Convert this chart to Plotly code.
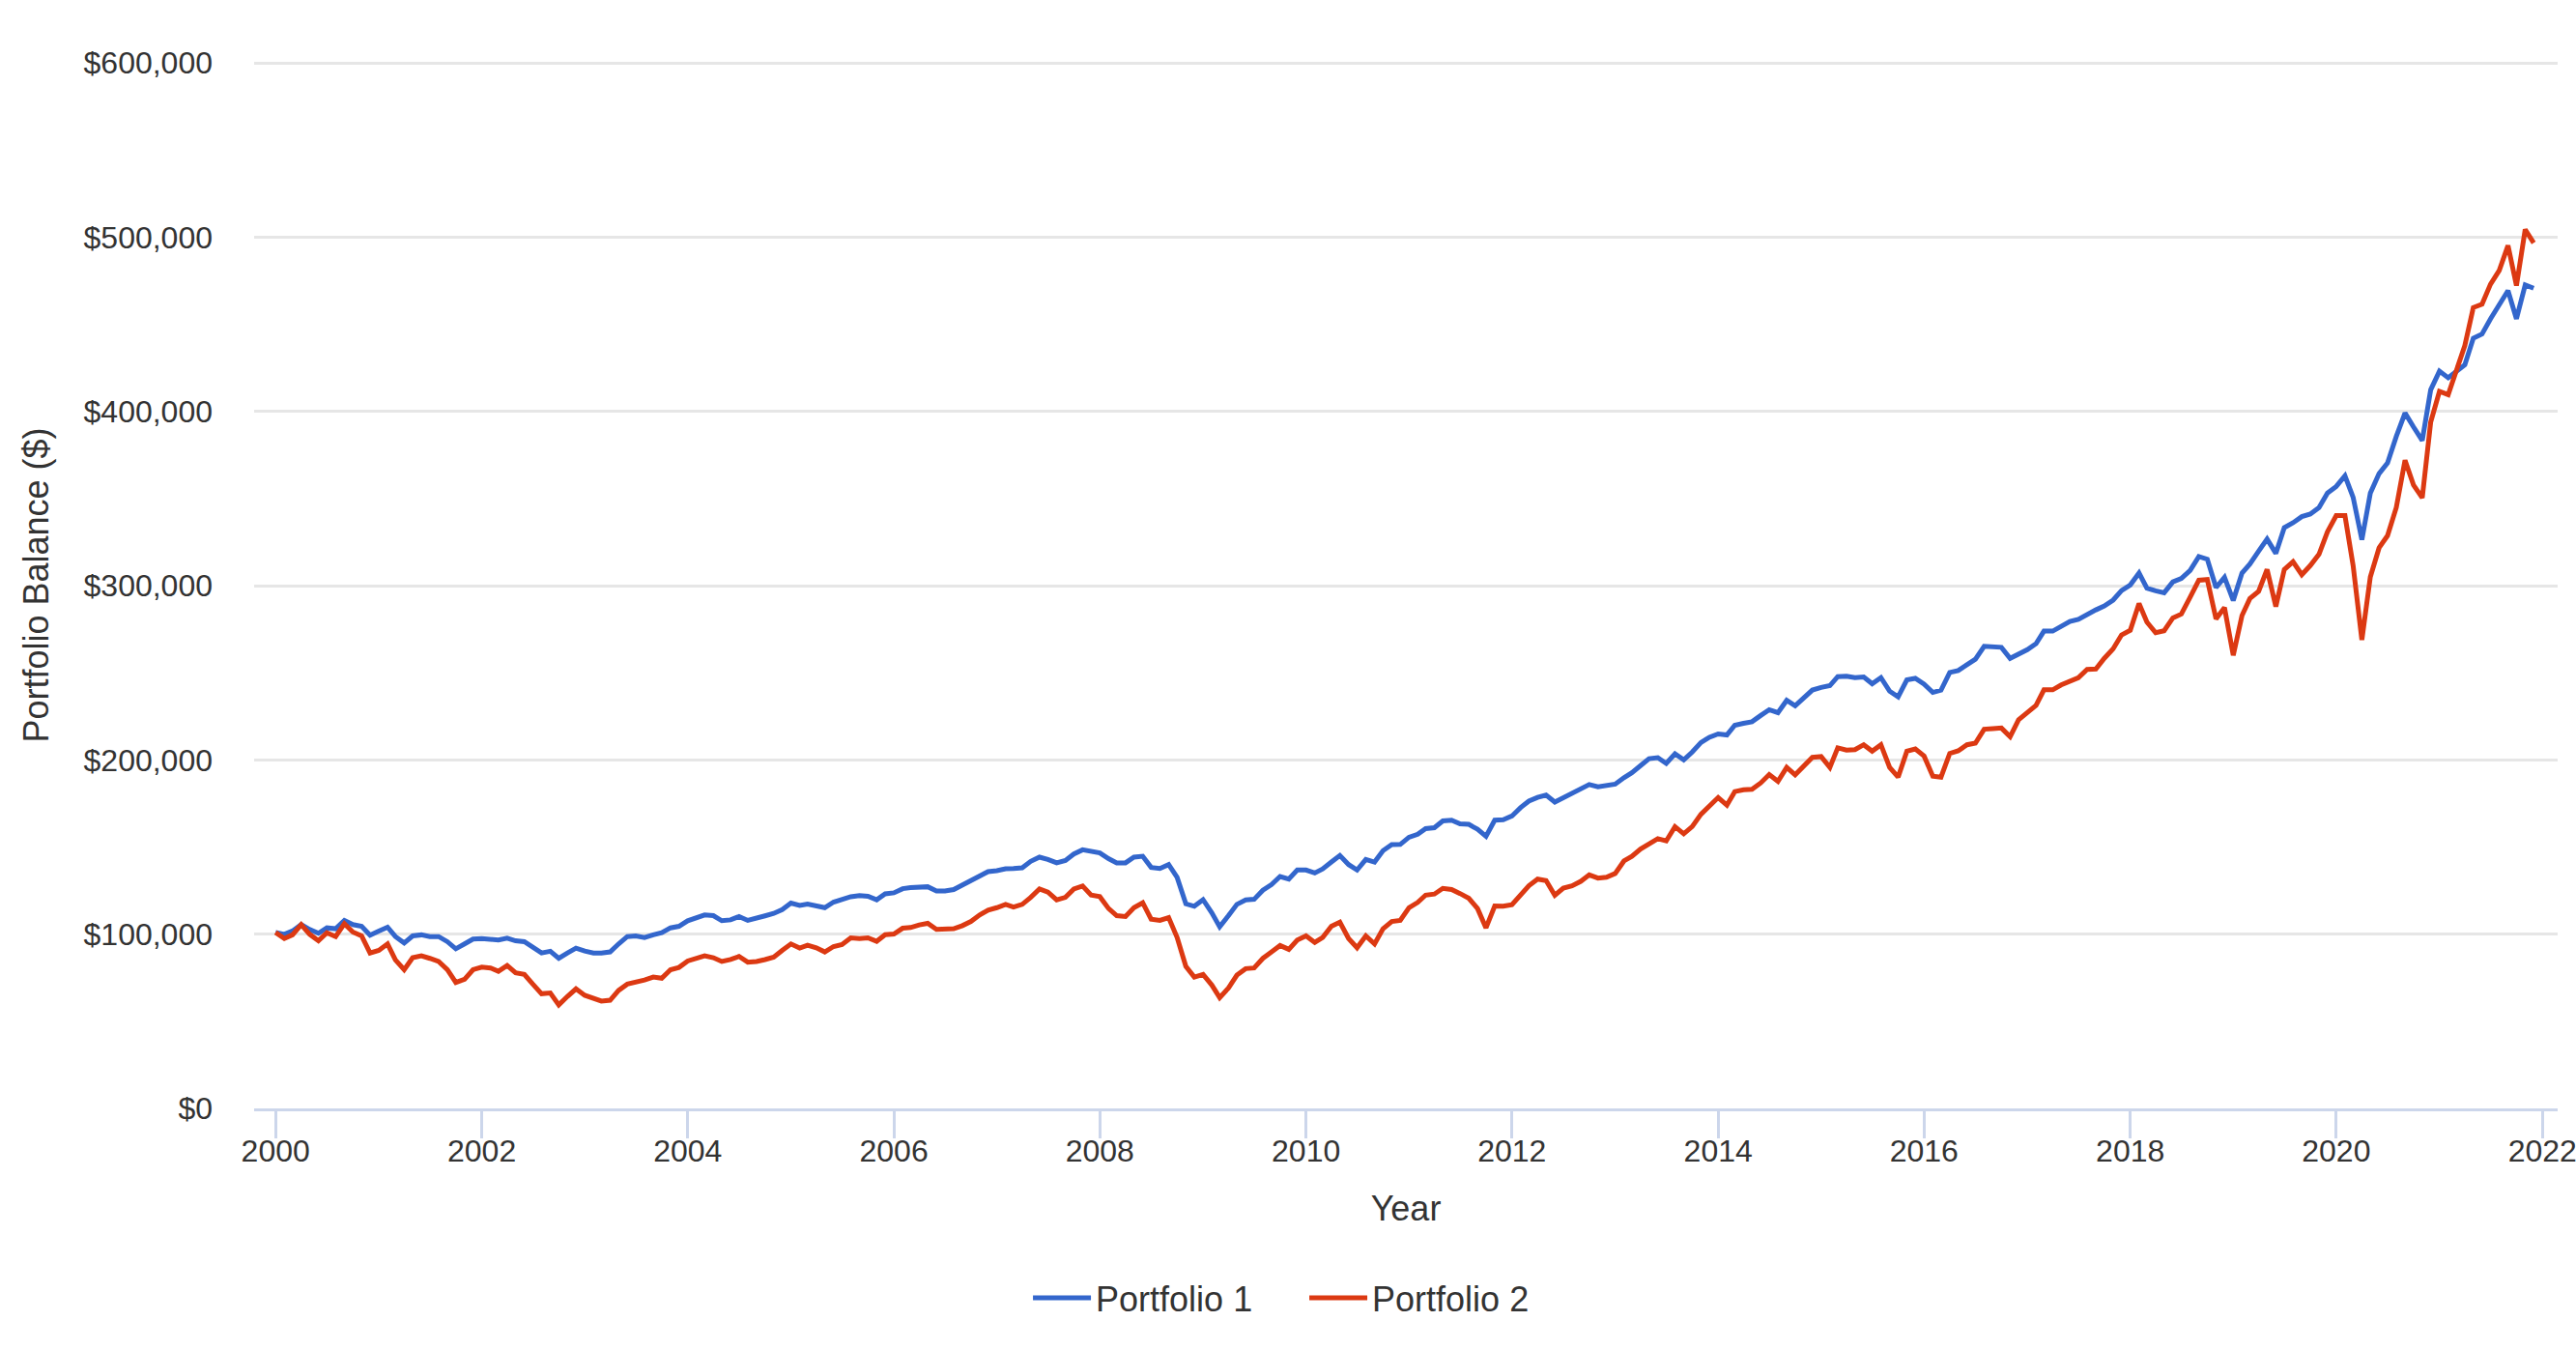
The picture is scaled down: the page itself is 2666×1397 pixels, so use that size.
import pandas as pd
import plotly.graph_objects as go

# Monthly dates, Jan 2000 .. Dec 2021
dates = pd.date_range("2000-01-01", periods=264, freq="MS")

# Portfolio balances in thousands of dollars
p1_k = [
    101.0, 99.9, 101.8, 105.5, 102.7, 100.5, 103.6, 103.1, 107.9, 105.5, 104.5, 99.4,
    101.8, 104.0, 98.6, 94.9, 99.0, 99.6, 98.6, 98.6, 95.7, 91.6, 94.4, 97.2,
    97.5, 97.2, 96.6, 97.7, 96.2, 95.7, 92.6, 89.2, 90.2, 86.1, 89.2, 92.0,
    90.3, 89.2, 89.2, 89.8, 94.4, 98.6, 99.0, 98.1, 99.6, 100.8, 103.6, 104.5,
    107.7, 109.7, 111.0, 110.6,
    107.7, 108.2, 110.1, 107.9, 109.0, 110.5, 111.9, 114.1, 117.8, 116.5, 117.3, 116.0,
    115.2, 118.4, 119.7, 121.5, 122.1, 121.7, 119.7, 123.1, 123.7, 126.1, 126.7, 126.8,
    127.2, 124.8, 124.8, 125.6, 128.1, 130.7, 133.5, 135.9, 136.4, 137.5, 137.7, 138.1,
    141.8, 144.2, 142.9, 140.9, 142.3, 146.0, 148.4, 147.3, 146.6, 143.3, 140.9, 140.9,
    144.2, 144.7, 138.3, 137.7, 139.9, 132.6, 117.4, 116.0, 119.8, 112.3, 104.2, 110.6,
    117.1, 119.7, 120.0, 125.2, 128.5, 133.1, 131.6, 136.8, 136.8, 135.1, 137.4, 141.4,
    145.1, 139.9, 136.8, 142.9, 141.4, 147.9, 151.4, 151.5, 155.6, 157.3, 160.6, 161.1,
    165.0, 165.4, 163.3, 163.0, 160.2, 156.2, 165.4, 165.7, 167.8, 172.7, 176.4, 178.5,
    179.8,
    175.8, 178.4, 181.0, 183.6, 185.9, 184.6, 185.3, 186.1, 189.8, 192.6, 196.7,
    200.7, 201.3, 198.0, 203.5, 200.0, 204.5, 210.0, 213.0, 214.9, 214.3,
    219.9, 221.0, 221.9, 225.5, 228.8, 227.1, 234.2, 231.0, 235.3, 240.1,
    241.6, 242.6, 247.8, 248.0, 247.2, 247.6, 243.7, 247.2, 239.4, 236.2,
    245.9, 246.8, 243.5, 238.7, 240.0, 250.2, 251.3, 254.3,
    257.8, 265.2, 264.8, 264.6, 258.3, 260.6, 263.3, 266.7, 273.9, 273.9,
    276.7, 279.4, 280.7, 283.7, 286.1, 288.3, 291.7, 297.2, 300.4, 307.2,
    298.5, 297.0, 295.9, 302.2, 304.1, 308.7, 316.7, 315.2, 298.9, 304.8,
    291.5, 307.2, 312.4, 319.8, 326.7, 318.5, 333.3, 336.1, 339.6, 341.1, 344.8,
    353.1, 356.9, 363.0, 350.7, 326.3, 353.1, 364.3, 370.4, 385.6, 399.1,
    391.1, 383.3, 412.4, 423.1, 419.3, 422.6, 426.7, 442.0, 444.4, 453.1,
    461.5, 469.3, 453.1, 472.6, 470.7,
]

p2_k = [
    101.0, 97.5, 99.6, 105.5, 99.9, 96.2, 100.8, 98.6, 106.0, 101.2, 99.0, 89.2,
    90.7, 94.4, 85.2, 79.6, 86.5, 87.6, 86.1, 84.3, 79.6, 72.3, 74.1, 79.6,
    81.1, 80.6, 78.7, 82.0, 77.8, 76.9, 71.3, 65.8, 66.2, 59.4, 64.3, 68.6,
    64.9, 63.1, 61.6, 62.1, 67.7, 71.3, 72.3, 73.7, 75.4, 74.7, 79.6, 80.9,
    84.6, 86.5, 87.6, 86.5,
    84.3, 85.5, 87.2, 83.9, 84.3, 85.4, 86.8, 90.7, 94.4, 92.0, 93.7, 92.2,
    89.8, 92.9, 94.0, 97.9, 97.5, 97.9, 95.9, 99.7, 100.1, 103.4, 103.8, 105.3,
    106.2, 102.7, 103.1, 103.1, 104.9, 107.3, 111.0, 113.8, 115.2, 117.1, 115.6, 117.1,
    121.1, 125.9, 124.1, 119.7, 121.1, 125.9, 127.6, 122.4, 121.5, 114.7, 110.6, 110.1,
    115.2, 118.0, 108.6, 107.9, 109.5, 98.1, 81.5, 75.4, 76.9, 70.8, 63.6, 69.1,
    76.5, 80.2, 80.6, 86.1, 89.8, 93.5, 91.3, 96.6, 99.0, 95.3, 98.1, 104.5,
    106.9, 97.5, 92.2, 99.0, 94.4, 103.1, 107.3, 107.9, 115.2, 118.2, 122.4, 123.0,
    126.3, 125.6, 123.3, 120.6, 114.7, 103.6, 116.2, 116.0, 116.9, 122.6, 127.8, 131.6,
    130.7,
    122.3, 126.4, 127.7, 130.3, 134.0, 132.2, 132.7, 134.8, 142.0, 144.6, 148.9,
    151.7, 154.8, 153.5, 161.7, 157.6, 161.7, 168.8, 174.0, 178.4, 174.0,
    181.8, 182.9, 183.1, 186.8, 191.6, 187.7, 195.7, 191.4, 196.7, 201.5,
    201.9, 195.7, 206.9, 205.6, 205.9, 208.7, 205.0, 208.7, 195.7, 190.1,
    205.0, 206.3, 202.2, 190.7, 190.1, 203.7, 205.2, 208.7,
    209.6, 217.6, 218.0, 218.3, 213.3, 223.0, 227.2, 231.3, 240.2, 240.2,
    243.0, 245.2, 247.2, 251.9, 252.2, 258.3, 263.7, 271.7, 274.4, 289.8,
    279.1, 273.0, 274.1, 281.5, 283.7, 293.3, 303.1, 303.5, 280.9, 287.4,
    260.0, 282.8, 292.6, 296.7, 309.3, 288.0, 309.3, 313.7, 306.3, 311.5, 318.0,
    330.9, 340.2, 340.2, 311.5, 268.9, 305.0, 321.7, 328.7, 344.8, 372.0,
    357.8, 350.4, 393.9, 411.5, 409.6, 422.6, 437.8, 459.6, 461.5, 473.0,
    480.9, 495.2, 472.2, 504.4, 496.7,
]

series_names = ["Portfolio 1", "Portfolio 2"]
y_ticks = [0, 100000, 200000, 300000, 400000, 500000, 600000]
y_tick_labels = ["$0", "$100,000", "$200,000", "$300,000", "$400,000", "$500,000", "$600,000"]

p1 = [v * 1000 for v in p1_k]
p2 = [v * 1000 for v in p2_k]

FONT = "Liberation Sans, Arial, Helvetica, sans-serif"
TXT = "#333333"

fig = go.Figure()
fig.add_trace(go.Scatter(x=dates, y=p1, mode="lines", name=series_names[0],
                         line=dict(color="#3366cc", width=5)))
fig.add_trace(go.Scatter(x=dates, y=p2, mode="lines", name=series_names[1],
                         line=dict(color="#dc3912", width=5)))

fig.update_layout(
    width=2666, height=1397, autosize=False,
    margin=dict(l=263, r=19, t=64, b=250),
    paper_bgcolor="white", plot_bgcolor="white",
    font=dict(family=FONT, color=TXT, size=32),
    showlegend=True,
    legend=dict(orientation="h", x=0.5064, xanchor="center", xref="container",
                y=1 - 1343 / 1397, yref="container", yanchor="middle",
                font=dict(size=36, color=TXT), itemwidth=60,
                entrywidth=211, entrywidthmode="pixels"),
    xaxis=dict(
        type="date", range=["1999-10-17", "2022-02-24"],
        tick0="2000-01-01", dtick="M24", tickformat="%Y",
        ticks="outside", ticklen=28, tickwidth=2.5, tickcolor="#ccd6eb",
        showline=True, linecolor="#ccd6eb", linewidth=2.5,
        showgrid=False, zeroline=False, automargin=False,
        ticklabeloverflow="allow", ticklabelstandoff=-14,
        tickfont=dict(size=32, color=TXT),
        title=dict(text="Year", font=dict(size=36, color=TXT), standoff=30),
    ),
    yaxis=dict(
        range=[0, 600600], tickvals=y_ticks, ticktext=y_tick_labels,
        showgrid=True, gridcolor="#e6e6e6", gridwidth=2.5,
        showline=False, zeroline=False, ticks="", automargin=False,
        ticklabelstandoff=42,
        tickfont=dict(size=32, color=TXT),
        title=dict(text="Portfolio Balance ($)", font=dict(size=36, color=TXT), standoff=24),
    ),
)

fig.write_html("out.html", config={"displayModeBar": False, "responsive": False},
               post_script="document.body.style.margin='0';document.body.style.overflow='hidden';")
